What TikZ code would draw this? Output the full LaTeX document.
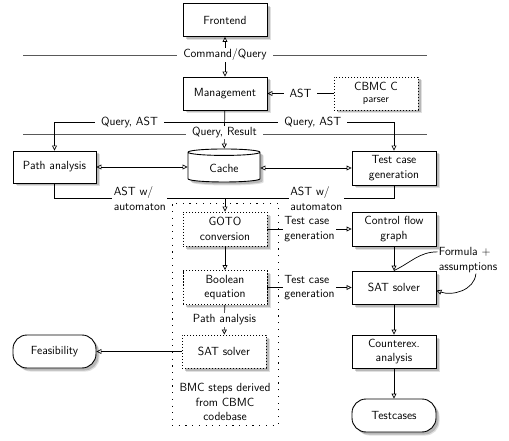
\documentclass[tikz,border=0pt]{standalone}
\usepackage{fontspec}
\usetikzlibrary{arrows.meta,shapes.geometric,shadows,calc}
\begin{document}
\begin{tikzpicture}[x=1pt,y=-1pt,
  every node/.style={font=\sffamily\fontsize{11.8}{14.5}\selectfont},
  shad/.style={general shadow={shadow xshift=3.5pt, shadow yshift=-3.5pt, fill=black, opacity=0.12},
               general shadow={shadow xshift=2.5pt, shadow yshift=-2.5pt, fill=black, opacity=0.18}},
  box/.style={draw, line width=0.9pt, fill=white, minimum width=84pt, minimum height=33pt, align=center, inner sep=2pt, shad},
  dbox/.style={box, dash pattern=on 1.2pt off 1.8pt},
  pill/.style={box, rounded corners=14pt},
  tip/.tip={Triangle[open,length=5pt,width=5pt]},
  conn/.style={line width=0.7pt, -tip},
  biconn/.style={line width=0.7pt, tip-tip},
  plain/.style={line width=0.7pt},
  seplbl/.style={fill=white, inner xsep=6pt, inner ysep=1pt},
  lbl/.style={fill=white, inner sep=1.5pt, align=left},
  sepline/.style={draw=black!65, line width=0.5pt}]
\useasboundingbox (0,0) rectangle (509,441);

% separator lines
\draw[sepline] (23,55) -- (427,55);
\draw[sepline] (23,134) -- (427,134);

% BMC region
\node[draw, line width=0.8pt, dash pattern=on 1.2pt off 5.5pt, minimum width=106pt, minimum height=222pt] (bmc) at (225,314) {};
\node[align=center] (bmclbl) at (225,402) {BMC steps derived\\from CBMC\\codebase};

% nodes
\node[box] (front) at (225,20) {Frontend};
\node[box] (mgmt) at (225,93.5) {Management};
\node[dbox] (cbmc) at (376,93.5) {CBMC C\\[-2pt]{\fontsize{10.5}{12}\selectfont parser}};
\node[box, minimum width=83pt, minimum height=32pt] (path) at (54.5,167) {Path analysis};
\node[cylinder, shape border rotate=90, aspect=0.18, draw, line width=0.9pt, fill=white, minimum width=72pt, minimum height=33pt, shad] (cache) at (224,168) {Cache};
\node[box, minimum height=34pt] (tcg) at (394,168) {Test case\\generation};
\node[dbox, minimum height=34pt] (goto) at (225,229) {GOTO\\conversion};
\node[dbox, minimum height=34pt] (bool) at (225,287.5) {Boolean\\equation};
\node[dbox] (sat1) at (224,351.5) {SAT solver};
\node[pill, minimum width=83pt] (feas) at (54.5,351.5) {Feasibility};
\node[box, minimum height=34pt] (cfg) at (394,229) {Control flow\\graph};
\node[box] (sat2) at (394,287.5) {SAT solver};
\node[box] (cex) at (394,351.5) {Counterex.\\analysis};
\node[pill] (test) at (394,415.5) {Testcases};
\node[align=left, inner sep=1pt] (fa) at (468,260) {Formula +\\assumptions};

\coordinate (qa) at (225,122);
\coordinate (aa) at (225,198.5);

% connectors
\draw[biconn] (front) -- node[seplbl, pos=0.45] {Command/Query} (mgmt);
\draw[conn] (cbmc) -- node[seplbl] {AST} (mgmt);
\draw[conn] (mgmt) -- node[seplbl, pos=0.57] {Query, Result} (cache);
\draw[conn] (qa) -| node[seplbl, pos=0.28] {Query, AST} (path.north);
\draw[conn] (qa) -| node[seplbl, pos=0.26] {Query, AST} (tcg.north);
\draw[biconn] (path.east) -- (path.east -| cache.west);
\draw[biconn] (cache.east) -- (cache.east -| tcg.west);
\draw[plain] (path.south) |- node[lbl, pos=0.75] {AST w/\\automaton} (aa);
\draw[plain] (tcg.south) |- node[lbl, pos=0.73] {AST w/\\automaton} (aa);
\draw[conn] (aa) -- (goto.north);
\draw[conn] (goto) -- (bool);
\draw[conn] (bool) -- node[lbl] {Path analysis} (sat1);
\draw[conn] (sat1) -- (feas);
\draw[conn] (goto) -- node[lbl] {Test case\\generation} (cfg);
\draw[conn] (bool) -- node[lbl] {Test case\\generation} (sat2);
\draw[conn] (cfg) -- (sat2);
\draw[conn] (sat2) -- (cex);
\draw[conn] (cex) -- (test);
\draw[plain] (fa.165) to[out=180, in=25] (sat2.north);
\draw[conn] (fa.-60) to[out=-95, in=-20] (sat2.-4);
\end{tikzpicture}
\end{document}
